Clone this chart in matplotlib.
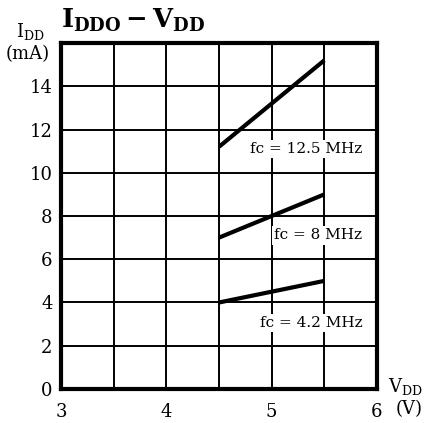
import matplotlib
matplotlib.use("Agg")
import matplotlib.pyplot as plt

vdd = [4.5, 5.5]
i_125 = [11.2, 15.2]
i_8 = [7.0, 9.0]
i_42 = [4.0, 5.0]
series = [("fc = 12.5 MHz", i_125, 11.1), ("fc = 8 MHz", i_8, 7.1), ("fc = 4.2 MHz", i_42, 3.05)]
xticks = [3, 4, 5, 6]
yticks = [0, 2, 4, 6, 8, 10, 12, 14]

plt.rcParams['font.family'] = ['DejaVu Serif']
plt.rcParams['mathtext.fontset'] = 'dejavuserif'

fig = plt.figure(figsize=(4.28, 4.23), dpi=100)
ax = fig.add_axes([0.1425, 0.0804, 0.7383, 0.8179])
ax.set_xlim(3, 6)
ax.set_ylim(0, 16)
ax.set_xticks(xticks)
ax.set_yticks(yticks)
ax.set_xticks([3.5, 4.5, 5.5], minor=True)
ax.set_yticks([16], minor=True)
ax.grid(True, which='both', color='black', linewidth=1.4)
ax.tick_params(length=0, labelsize=13, which='both')
ax.tick_params(axis='x', pad=10)
ax.tick_params(axis='y', pad=6)
for s in ax.spines.values():
    s.set_linewidth(3)

for label, ys, ly in series:
    ax.plot(vdd, ys, color='black', linewidth=3, solid_capstyle='butt', zorder=3)
    ax.text(5.86, ly, label, ha='right', va='center', fontsize=11,
            bbox=dict(facecolor='white', edgecolor='none', pad=1.5), zorder=4)

fig.text(0.142, 0.952, r'$\mathbf{I_{DDO} - V_{DD}}$', fontsize=18.5, ha='left', va='center')
fig.text(0.07, 0.925, r'$\mathrm{I_{DD}}$', fontsize=13, ha='center', va='center')
fig.text(0.065, 0.872, '(mA)', fontsize=13, ha='center', va='center')
fig.text(0.948, 0.087, r'$\mathrm{V_{DD}}$', fontsize=13, ha='center', va='center')
fig.text(0.955, 0.032, '(V)', fontsize=13, ha='center', va='center')

fig.savefig('out.png', dpi=100)
